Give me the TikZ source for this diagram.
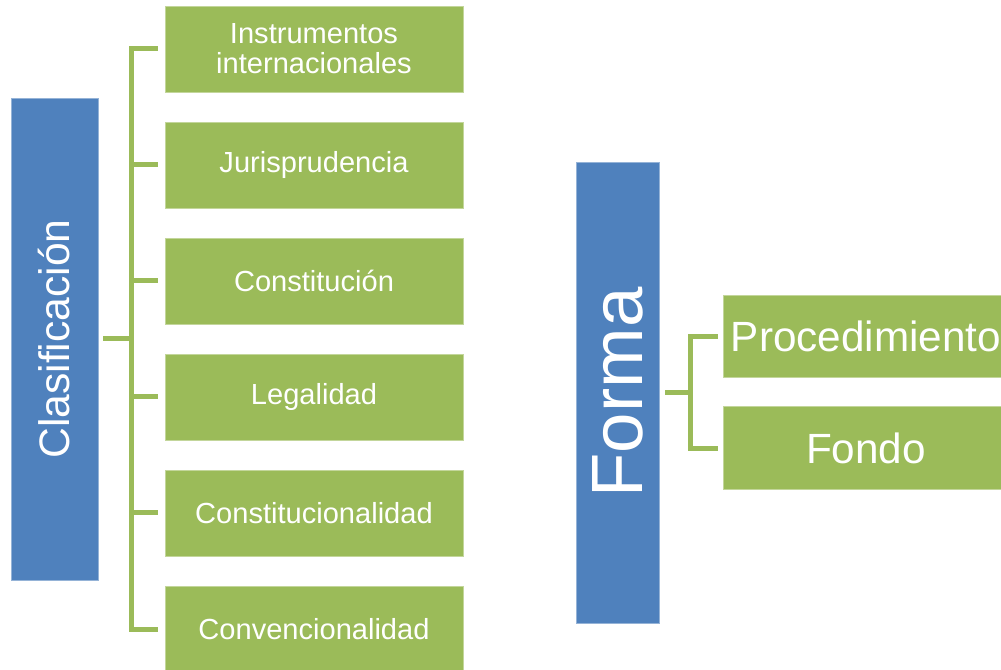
\documentclass[tikz,border=0pt]{standalone}
\usepackage{fontspec}
\setmainfont{Liberation Sans}
\usetikzlibrary{positioning}
\definecolor{catblue}{HTML}{4F81BD}
\definecolor{itemgreen}{HTML}{9BBB59}
\tikzset{
    %Define style for category boxes
    category/.style={
   	rectangle,
   	draw=catblue!60!white, line width=0.6pt,
   	fill=catblue,
   	text=white,
   	inner sep=0pt, outer sep=0pt
   },
    %Define style for item boxes
    item/.style={
   	rectangle,
   	draw=itemgreen!60!white, line width=0.6pt,
   	fill=itemgreen,
   	text=white,
   	align=center,
   	inner sep=0pt, outer sep=0pt
   },
    % Define bracket style
    brk/.style={
           draw=itemgreen,
           line width=3.75pt},
}
\begin{document}
\begin{tikzpicture}[x=0.75pt,y=-0.75pt,node distance=22.5pt,
		small/.style={item,minimum width=223.5pt,minimum height=64.5pt,font=\fontsize{21.8}{22.5}\selectfont},
		big/.style={item,minimum width=214.5pt,minimum height=62pt,font=\fontsize{31.7}{34}\selectfont}]
		\useasboundingbox (0,0) rectangle (1001,670);
		\node[category,minimum width=65.25pt,minimum height=361.5pt,font=\fontsize{32}{34}\selectfont](clas) at (54.5,339){\rotatebox{90}{Clasificación}};
		\node[small](1) at (314,49){Instrumentos\\internacionales};
		\node[small,below=of 1](2){Jurisprudencia};
		\node[small,below=of 2](3){Constitución};
		\node[small,below=of 3](4){Legalidad};
		\node[small,below=of 4](5){Constitucionalidad};
		\node[small,below=of 5](6){Convencionalidad};
		\node[category,minimum width=62.25pt,minimum height=345.75pt,font=\fontsize{54.5}{56}\selectfont](forma) at (617.5,392.5){\rotatebox{90}{Forma}};
		\node[big](proc) at (866,336.5){Procedimiento};
		\node[big,below=21.75pt of proc](fondo){Fondo};
		\coordinate (k1) at (131,339);
		\coordinate (k2) at (690,392.5);
		\draw[brk] ([xshift=3.75pt]clas.east) -- (k1);
		\foreach \n in {1,...,6}
		\draw[brk] (k1) |- ([xshift=-5.25pt]\n.west);
		\draw[brk] ([xshift=4.5pt]forma.east) -- (k2);
		\foreach \n in {proc,fondo}
		\draw[brk] (k2) |- ([xshift=-3.75pt]\n.west);
		\end{tikzpicture}
\end{document}
